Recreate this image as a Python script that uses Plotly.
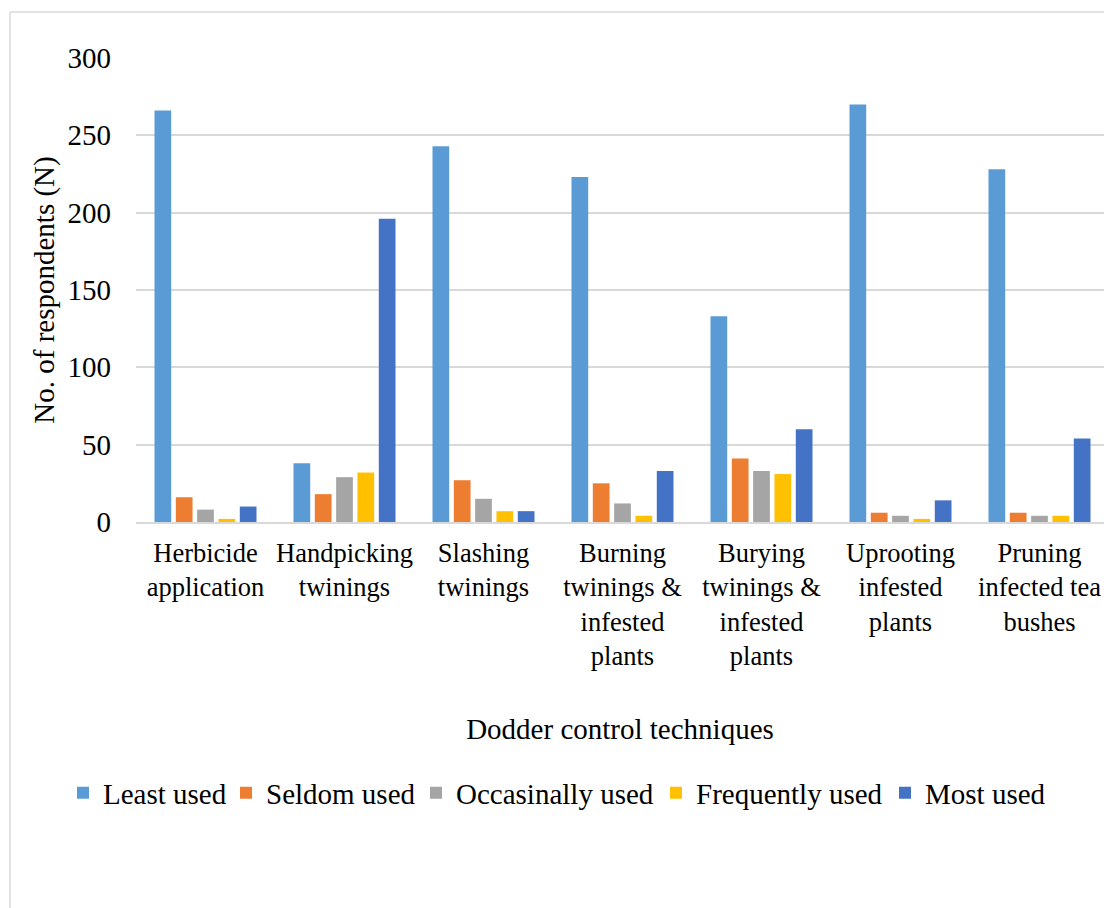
import plotly.graph_objects as go

# Dodder control techniques survey: number of respondents per usage level
techniques = [
    "Herbicide<br>application",
    "Handpicking<br>twinings",
    "Slashing<br>twinings",
    "Burning<br>twinings &<br>infested<br>plants",
    "Burying<br>twinings &<br>infested<br>plants",
    "Uprooting<br>infested<br>plants",
    "Pruning<br>infected tea<br>bushes",
]
least_used = [266, 38, 243, 223, 133, 270, 228]
seldom_used = [16, 18, 27, 25, 41, 6, 6]
occasinally_used = [8, 29, 15, 12, 33, 4, 4]
frequently_used = [2, 32, 7, 4, 31, 2, 4]
most_used = [10, 196, 7, 33, 60, 14, 54]

y_ticks = [0, 50, 100, 150, 200, 250, 300]

series = [
    ("Least used", least_used, "#5B9BD5"),
    ("Seldom used", seldom_used, "#ED7D31"),
    ("Occasinally used", occasinally_used, "#A5A5A5"),
    ("Frequently used", frequently_used, "#FFC000"),
    ("Most used", most_used, "#4472C4"),
]

# left edge (px) of each legend entry's label text
legend_text_x = [100, 263, 453, 693, 922]

FONT = "Liberation Serif, Times New Roman, serif"

W, H = 1104, 908
L, R, T, B = 136, 0, 58, 386
plot_w = W - L - R
plot_h = H - T - B
CAT_PX = 139  # pixel width of one category slot

fig = go.Figure()
legend_layouts = {}
for i, (name, values, color) in enumerate(series):
    key = "legend" if i == 0 else f"legend{i + 1}"
    fig.add_trace(go.Bar(
        name=name,
        x=list(range(len(techniques))),
        y=values,
        marker=dict(color=color, line=dict(width=0)),
        legend=key,
    ))
    legend_layouts[key] = dict(
        orientation="h",
        x=(legend_text_x[i] - 37 - L) / plot_w, xanchor="left",
        y=(H - B - 793) / plot_h, yanchor="middle",
        font=dict(family=FONT, size=29, color="#000000"),
        bgcolor="rgba(0,0,0,0)", borderwidth=0,
        itemwidth=30,
    )

# chart frame (left and top edges of the outer border)
fx = (10 - L) / plot_w
fy = (H - B - 12) / plot_h
fig.add_shape(type="line", xref="paper", yref="paper", x0=fx, x1=fx, y0=-2, y1=fy,
              line=dict(color="#D9D9D9", width=1.5))
fig.add_shape(type="line", xref="paper", yref="paper", x0=fx, x1=1.2, y0=fy, y1=fy,
              line=dict(color="#D9D9D9", width=1.5))

fig.update_layout(
    width=W, height=H,
    margin=dict(l=L, r=R, t=T, b=B, autoexpand=False),
    paper_bgcolor="white", plot_bgcolor="white",
    font=dict(family=FONT, size=29, color="#000000"),
    barmode="group",
    bargap=0.233,
    bargroupgap=0.216,
    showlegend=True,
    **legend_layouts,
)

fig.update_xaxes(
    tickmode="array",
    tickvals=list(range(len(techniques))),
    ticktext=techniques,
    range=[-0.5, plot_w / CAT_PX - 0.5],
    showgrid=False,
    showline=True, linecolor="#D9D9D9", linewidth=2,
    ticks="", tickangle=0,
    ticklabelstandoff=6,
    tickfont=dict(family=FONT, size=26.5),
    automargin=False,
    title=dict(text="Dodder control techniques", font=dict(family=FONT, size=29), standoff=49),
)

fig.update_yaxes(
    range=[0, 300],
    tickmode="array",
    tickvals=y_ticks,
    ticktext=[str(v) for v in y_ticks],
    showgrid=True, gridcolor="#D9D9D9", gridwidth=1.5,
    zeroline=False, showline=False,
    ticks="", ticklabelstandoff=24,
    tickfont=dict(family=FONT, size=29),
    automargin=False,
    title=dict(text="No. of respondents (N)", font=dict(family=FONT, size=29), standoff=4),
)

fig.write_html("out.html")
